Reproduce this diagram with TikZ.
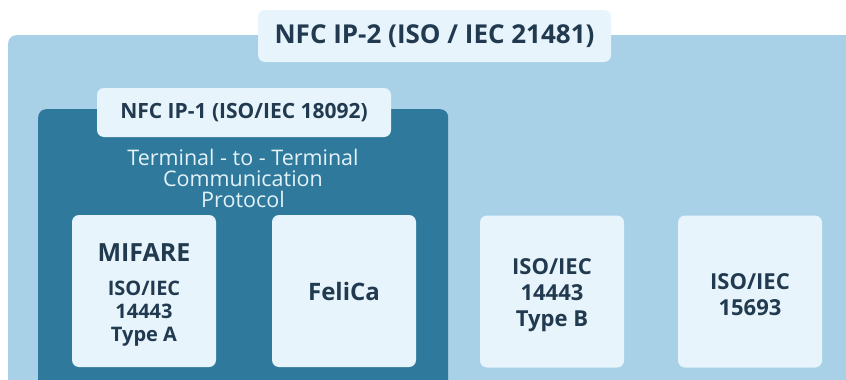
\documentclass[tikz,border=0pt]{standalone}
\usepackage{fontspec}
\setmainfont{Open Sans}
\usetikzlibrary{positioning}
\definecolor{outerblue}{HTML}{A8D1E8}
\definecolor{deepblue}{HTML}{2F7A9C}
\definecolor{paleblue}{HTML}{E7F4FB}
\definecolor{inktext}{HTML}{213A50}
\definecolor{softtext}{HTML}{E3F1F8}
\tikzstyle{panel}=[draw=none,rounded corners=8pt,inner sep=0pt,anchor=north west]
\tikzstyle{titlebox}=[draw=none,rounded corners=7pt,fill=paleblue,text=inktext,inner sep=0pt]
\tikzstyle{card}=[titlebox,minimum width=144pt,minimum height=152pt]
\tikzstyle{cardtext}=[text=inktext,align=center,font=\bfseries\fontsize{22}{26}\selectfont]

\begin{document}
\begin{tikzpicture}[x=1pt,y=-1pt]
    \useasboundingbox (0,0) rectangle (846,380);
    \clip (0,0) rectangle (846,380);
    % the two containers
    \node[panel,fill=outerblue,minimum width=860pt,minimum height=370pt] (ip2) at (8,35) {};
    \node[titlebox,minimum width=353pt,minimum height=52pt,font=\bfseries\fontsize{26}{30}\selectfont] (ip2title) at (434.5,36) {NFC IP-2 (ISO / IEC 21481)};

    \node[panel,fill=deepblue,minimum width=410pt,minimum height=300pt] (ip1) at (38,109) {};
    \node[titlebox,minimum width=294pt,minimum height=49pt,font=\bfseries\fontsize{21}{25}\selectfont] (ip1title) at (244,112.5) {NFC IP-1 (ISO/IEC 18092)};

    \node[text=softtext,align=center,font=\fontsize{21.5}{21}\selectfont] (ttt) at (243,178) {Terminal - to - Terminal\\Communication\\Protocol};

    % the four cards
    \foreach \pos/\name in {{(144,291)/mifare}, {(344,291)/felica}, {(552,291.5)/typeb}, {(750,291.5)/vicinity}}
        \node[card] (\name) at \pos {};

    % and what they say
    \node[cardtext,font=\bfseries\fontsize{20}{23}\selectfont,yshift=-4pt] (mifaretext) at (mifare) {{\fontsize{25}{28}\selectfont MIFARE}\\[11pt]ISO/IEC\\14443\\Type A};
    \node[cardtext,font=\bfseries\fontsize{24}{28}\selectfont] (felicatext) at (felica) {FeliCa};
    \node[cardtext,yshift=-3.5pt] (typebtext) at (typeb) {ISO/IEC\\14443\\Type B};
    \node[cardtext,yshift=-3.5pt] (vicinitytext) at (vicinity) {ISO/IEC\\15693};
\end{tikzpicture}
\end{document}
